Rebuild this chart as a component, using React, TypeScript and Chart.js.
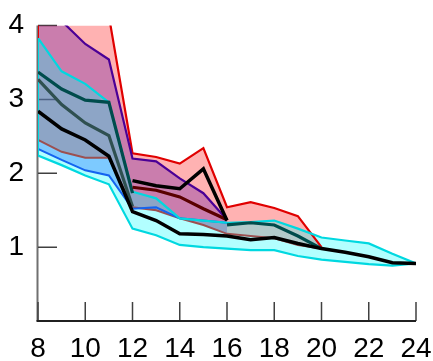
import React, { useEffect, useRef } from "react";
import { Chart, registerables } from "chart.js";

Chart.register(...registerables);

// x positions
const xs = [8, 9, 10, 11, 12, 13, 14, 15, 16, 17, 18, 19, 20, 21, 22, 23, 24];
const xTickValues = [8, 10, 12, 14, 16, 18, 20, 22, 24];
const yTickValues = [1, 2, 3, 4];

// red band (x 8..20)
const redUpper = [4.5, 4.4, 4.3, 4.13, 2.27, 2.22, 2.13, 2.34, 1.54, 1.61, 1.53, 1.42, 1.0];
const redLower = [2.45, 2.29, 2.21, 2.21, 1.54, 1.5, 1.39, 1.3, 1.18, 1.15, 1.12, 1.03, 0.98];
// purple band (x 8..16)
const purpleUpper = [4.3, 4.06, 3.75, 3.54, 2.2, 2.16, 1.93, 1.73, 1.37];
const blueLower = [2.33, 2.18, 2.04, 1.97, 1.52, 1.54, 1.39, 1.36, 1.33];
// cyan band (x 8..24)
const cyanUpper = [3.83, 3.38, 3.21, 2.96, 1.75, 1.66, 1.39, 1.36, 1.33, 1.34, 1.36, 1.25, 1.13, 1.09, 1.05, 0.91, 0.78];
const cyanLower = [2.24, 2.11, 1.97, 1.85, 1.25, 1.16, 1.03, 1.0, 0.98, 0.96, 0.96, 0.88, 0.83, 0.8, 0.77, 0.75, 0.78];
// mean lines
const slateMean = [3.27, 2.93, 2.68, 2.51, 1.55];
const tealMean = [3.37, 3.14, 2.99, 2.96, 1.73, null, null, null, 1.3, 1.33, 1.3, 1.15, 0.98];
const maroonMean = [null, null, null, null, 1.81, 1.77, 1.68, 1.52, 1.37];
const blackUpperMean = [null, null, null, null, 1.9, 1.83, 1.79, 2.06, 1.36];
const blackLowerMean = [2.84, 2.6, 2.45, 2.23, 1.48, 1.36, 1.18, 1.17, 1.15, 1.1, 1.13, 1.05, 0.98, 0.93, 0.87, 0.79, 0.78];

const pts = (vals: (number | null)[]) => vals.map((v, i) => ({ x: xs[i], y: v }));
const vEdge = (lo: number[], hi: number[]) => [
  { x: xs[0], y: lo[0] },
  { x: xs[0], y: hi[0] },
];

const innerAxes = {
  id: "innerAxes",
  beforeDatasetsDraw(chart: any) {
    const { ctx, chartArea: a, scales } = chart;
    const x = scales.x;
    const y = scales.y;
    ctx.save();
    ctx.strokeStyle = "#707070";
    ctx.lineWidth = 2;
    ctx.beginPath();
    ctx.moveTo(a.left - 0.5, a.top);
    ctx.lineTo(a.left - 0.5, a.bottom);
    ctx.stroke();
    ctx.strokeStyle = "#404040";
    ctx.lineWidth = 1.5;
    ctx.beginPath();
    for (const v of yTickValues) {
      const py = y.getPixelForValue(v);
      ctx.moveTo(a.left, py);
      ctx.lineTo(a.left + 19, py);
    }
    for (const v of xTickValues) {
      const px = x.getPixelForValue(v);
      ctx.moveTo(px, a.bottom);
      ctx.lineTo(px, a.bottom - 19);
    }
    ctx.stroke();
    ctx.strokeStyle = "#202020";
    ctx.lineWidth = 2;
    ctx.beginPath();
    ctx.moveTo(a.left - 1.5, a.bottom);
    ctx.lineTo(a.right, a.bottom);
    ctx.stroke();
    ctx.restore();
  },
};

export default function App() {
  const ref = useRef<HTMLCanvasElement | null>(null);
  useEffect(() => {
    if (!ref.current) return;
    const line = (data: any, color: string, width: number, order: number, extra: any = {}) => ({
      data,
      borderColor: color,
      borderWidth: width,
      backgroundColor: color,
      pointRadius: 0,
      tension: 0,
      fill: false,
      spanGaps: false,
      order,
      ...extra,
    });
    const none = "rgba(0,0,0,0)";
    const blueSpan = 6;
    const datasets: any[] = [
      // fills (drawn first)
      line(pts(redUpper), none, 0, 100, { fill: 1, backgroundColor: "rgba(255,0,0,0.3)" }),
      line(pts(redLower), none, 0, 99),
      line(pts(purpleUpper), none, 0, 98, { fill: 3, backgroundColor: "rgba(80,0,160,0.3)" }),
      line(pts(redLower.slice(0, purpleUpper.length)), none, 0, 97),
      line(pts(cyanUpper), none, 0, 96, { fill: 5, backgroundColor: "rgba(0,255,255,0.3)" }),
      line(pts(cyanLower), none, 0, 95),
      line(pts(redLower.slice(0, blueSpan)), none, 0, 94, { fill: 7, backgroundColor: "rgba(0,80,255,0.3)" }),
      line(pts(blueLower.slice(0, blueSpan)), none, 0, 93),
      // band edges
      line(pts(redLower), "#9c5050", 2, 50),
      line(pts(blueLower), "#1464f0", 2, 49),
      line(pts(redUpper), "#e00000", 2.2, 48),
      line(pts(purpleUpper), "#4b0096", 2.2, 47),
      line(pts(cyanLower), "#00d8e0", 2.2, 46),
      line(pts(cyanUpper), "#00d8e0", 2.2, 45),
      line(vEdge(redLower, redUpper), "#e00000", 2, 44),
      line(vEdge(cyanLower, cyanUpper), "#00d8e0", 2, 43),
      // means
      line(pts(slateMean), "#2f5050", 3.2, 10),
      line(pts(tealMean), "#004c4c", 3.2, 9),
      line(pts(maroonMean), "#5a0000", 3.2, 8),
      line(pts(blackUpperMean), "#000000", 3.5, 7),
      line(pts(blackLowerMean), "#000000", 3.5, 6),
    ];
    const font = { family: "'Liberation Sans', Arial, sans-serif", size: 28 };
    const chart = new Chart(ref.current, {
      type: "line",
      data: { datasets },
      options: {
        animation: false,
        responsive: false,
        maintainAspectRatio: false,
        events: [],
        layout: { padding: { top: 25.5, right: 17, left: 0, bottom: 0 } },
        plugins: { legend: { display: false }, tooltip: { enabled: false } },
        scales: {
          x: {
            type: "linear",
            min: 8,
            max: 24,
            grid: { display: false, drawTicks: false },
            border: { display: false },
            ticks: {
              stepSize: 2,
              padding: 11,
              color: "#000",
              font,
              maxRotation: 0,
              autoSkip: false,
            },
            afterFit: (s: any) => {
              s.height = 40;
              s.paddingLeft = 0;
              s.paddingRight = 0;
            },
          },
          y: {
            min: 0,
            max: 4,
            grid: { display: false, drawTicks: false },
            border: { display: false },
            ticks: {
              stepSize: 1,
              padding: 14,
              color: "#000",
              font,
              callback: (v: any) => (v === 0 ? "" : String(v)),
            },
            afterFit: (s: any) => {
              s.width = 38;
              s.paddingTop = 0;
              s.paddingBottom = 0;
            },
          },
        },
      },
      plugins: [innerAxes],
    });
    return () => chart.destroy();
  }, []);
  return (
    <div style={{ position: "fixed", left: 0, top: 0, width: 433, height: 361, background: "#fff" }}>
      <canvas ref={ref} width={433} height={361} style={{ width: 433, height: 361, display: "block" }} />
    </div>
  );
}
